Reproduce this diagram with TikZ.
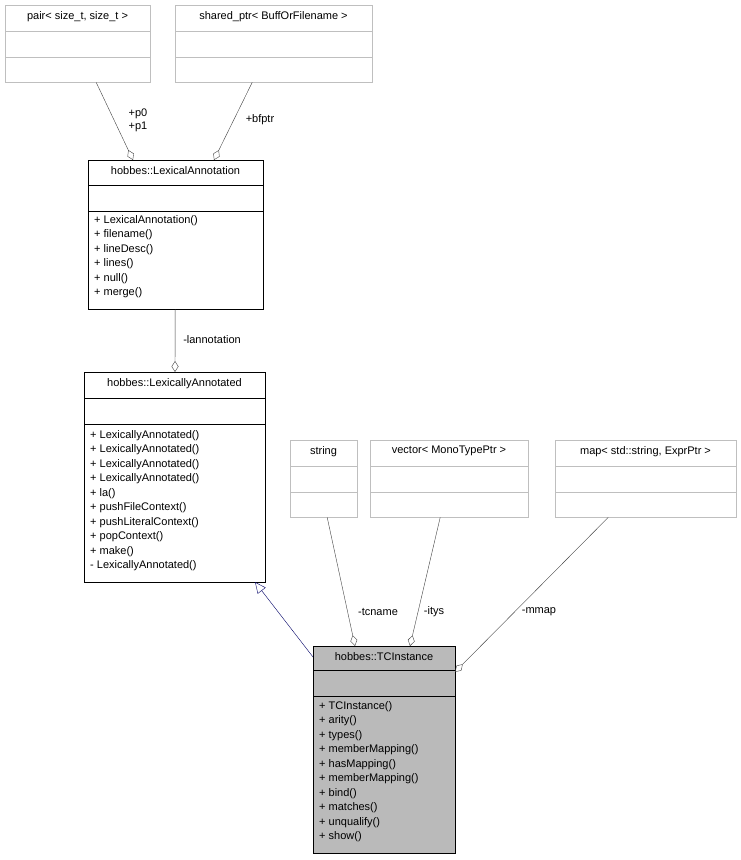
\documentclass[tikz,border=0pt]{standalone}
\usepackage{fontspec}
\setmainfont{Liberation Sans}
\usetikzlibrary{arrows.meta}

\tikzset{
  umlbox/.style={draw=#1, fill=white, inner sep=0pt, anchor=north west},
  title/.style={anchor=north, inner sep=0pt, font=\fontsize{11}{13}\selectfont},
  members/.style={anchor=north west, align=left, inner sep=0pt,
    font=\fontsize{11}{14.5}\selectfont},
  assoc/.style={draw=black!75, -{Diamond[open,length=11pt,width=7pt]}},
  inherit/.style={draw=blue!40!black, -{Triangle[open,length=11pt,width=10pt]}},
  elabel/.style={font=\fontsize{11}{13}\selectfont, inner sep=1pt}
}

% box: name, color, x1, y1, x2, line1, line2, y2
\newcommand{\umlbox}[8]{%
  \node[umlbox=#2, minimum width=#5pt-#3pt, minimum height=#8pt-#4pt] (#1) at (#3,#4) {};
  \draw[#2] (#3,#6) -- (#5,#6) (#3,#7) -- (#5,#7);
}

\begin{document}
\begin{tikzpicture}[x=1pt,y=-1pt]
\useasboundingbox (0,0) rectangle (741,860);

\umlbox{pair}{black!25}{5}{5}{150}{31}{57}{82}
\node[title] at (77.5,11) {pair< size\_t, size\_t >};
\umlbox{sptr}{black!25}{175}{5}{372}{31}{57}{82}
\node[title] at (273.5,11) {shared\_ptr< BuffOrFilename >};

\umlbox{lexann}{black}{88}{160}{263}{185}{211}{309}
\node[title] at (175.5,166) {hobbes::LexicalAnnotation};
\node[members] at (94,215) {+ LexicalAnnotation()\\+ filename()\\+ lineDesc()\\+ lines()\\+ null()\\+ merge()};

\umlbox{lexannd}{black}{84}{372}{265}{398}{424}{582}
\node[title] at (174.5,378) {hobbes::LexicallyAnnotated};
\node[members] at (90,430) {+ LexicallyAnnotated()\\+ LexicallyAnnotated()\\+ LexicallyAnnotated()\\+ LexicallyAnnotated()\\+ la()\\+ pushFileContext()\\+ pushLiteralContext()\\+ popContext()\\+ make()\\- LexicallyAnnotated()};

\umlbox{str}{black!25}{290}{440}{357}{466}{492}{517}
\node[title] at (323.5,446) {string};
\umlbox{vec}{black!25}{370}{440}{528}{466}{492}{517}
\node[title] at (449,446) {vector< MonoTypePtr >};
\umlbox{map}{black!25}{555}{440}{736}{466}{492}{517}
\node[title] at (645.5,446) {map< std::string, ExprPtr >};

\umlbox{tci}{black}{313}{646}{455}{670}{696}{853}
\fill[black!27] (313,646) rectangle (455,853);
\draw (313,646) rectangle (455,853) (313,670) -- (455,670) (313,696) -- (455,696);
\node[title] at (384,652) {hobbes::TCInstance};
\node[members] at (319,701) {+ TCInstance()\\+ arity()\\+ types()\\+ memberMapping()\\+ hasMapping()\\+ memberMapping()\\+ bind()\\+ matches()\\+ unqualify()\\+ show()};

\coordinate (pairend) at (133,160);
\coordinate (sptrend) at (214,160);
\draw[assoc] (pair.south) ++(18.5,0) -- (pairend);
\node[elabel, align=left] at (138,120) {+p0\\+p1};
\draw[assoc] (sptr.south) ++(-21.5,0) -- (sptrend);
\node[elabel] at (260,120) {+bfptr};
\draw[assoc] (lexann.south) ++(-0.5,0) -- (175,372);
\node[elabel] at (212,340) {-lannotation};

\draw[inherit] (313,657) -- (255,582);
\draw[assoc] (str.south) ++(3.5,0) -- (355,646);
\node[elabel] at (378,612) {-tcname};
\draw[assoc] (vec.south) ++(-9,0) -- (410,646);
\node[elabel] at (434,612) {-itys};
\draw[assoc] (map.south) ++(-37.5,0) -- (455,672);
\node[elabel] at (539,612) {-mmap};
\end{tikzpicture}
\end{document}
